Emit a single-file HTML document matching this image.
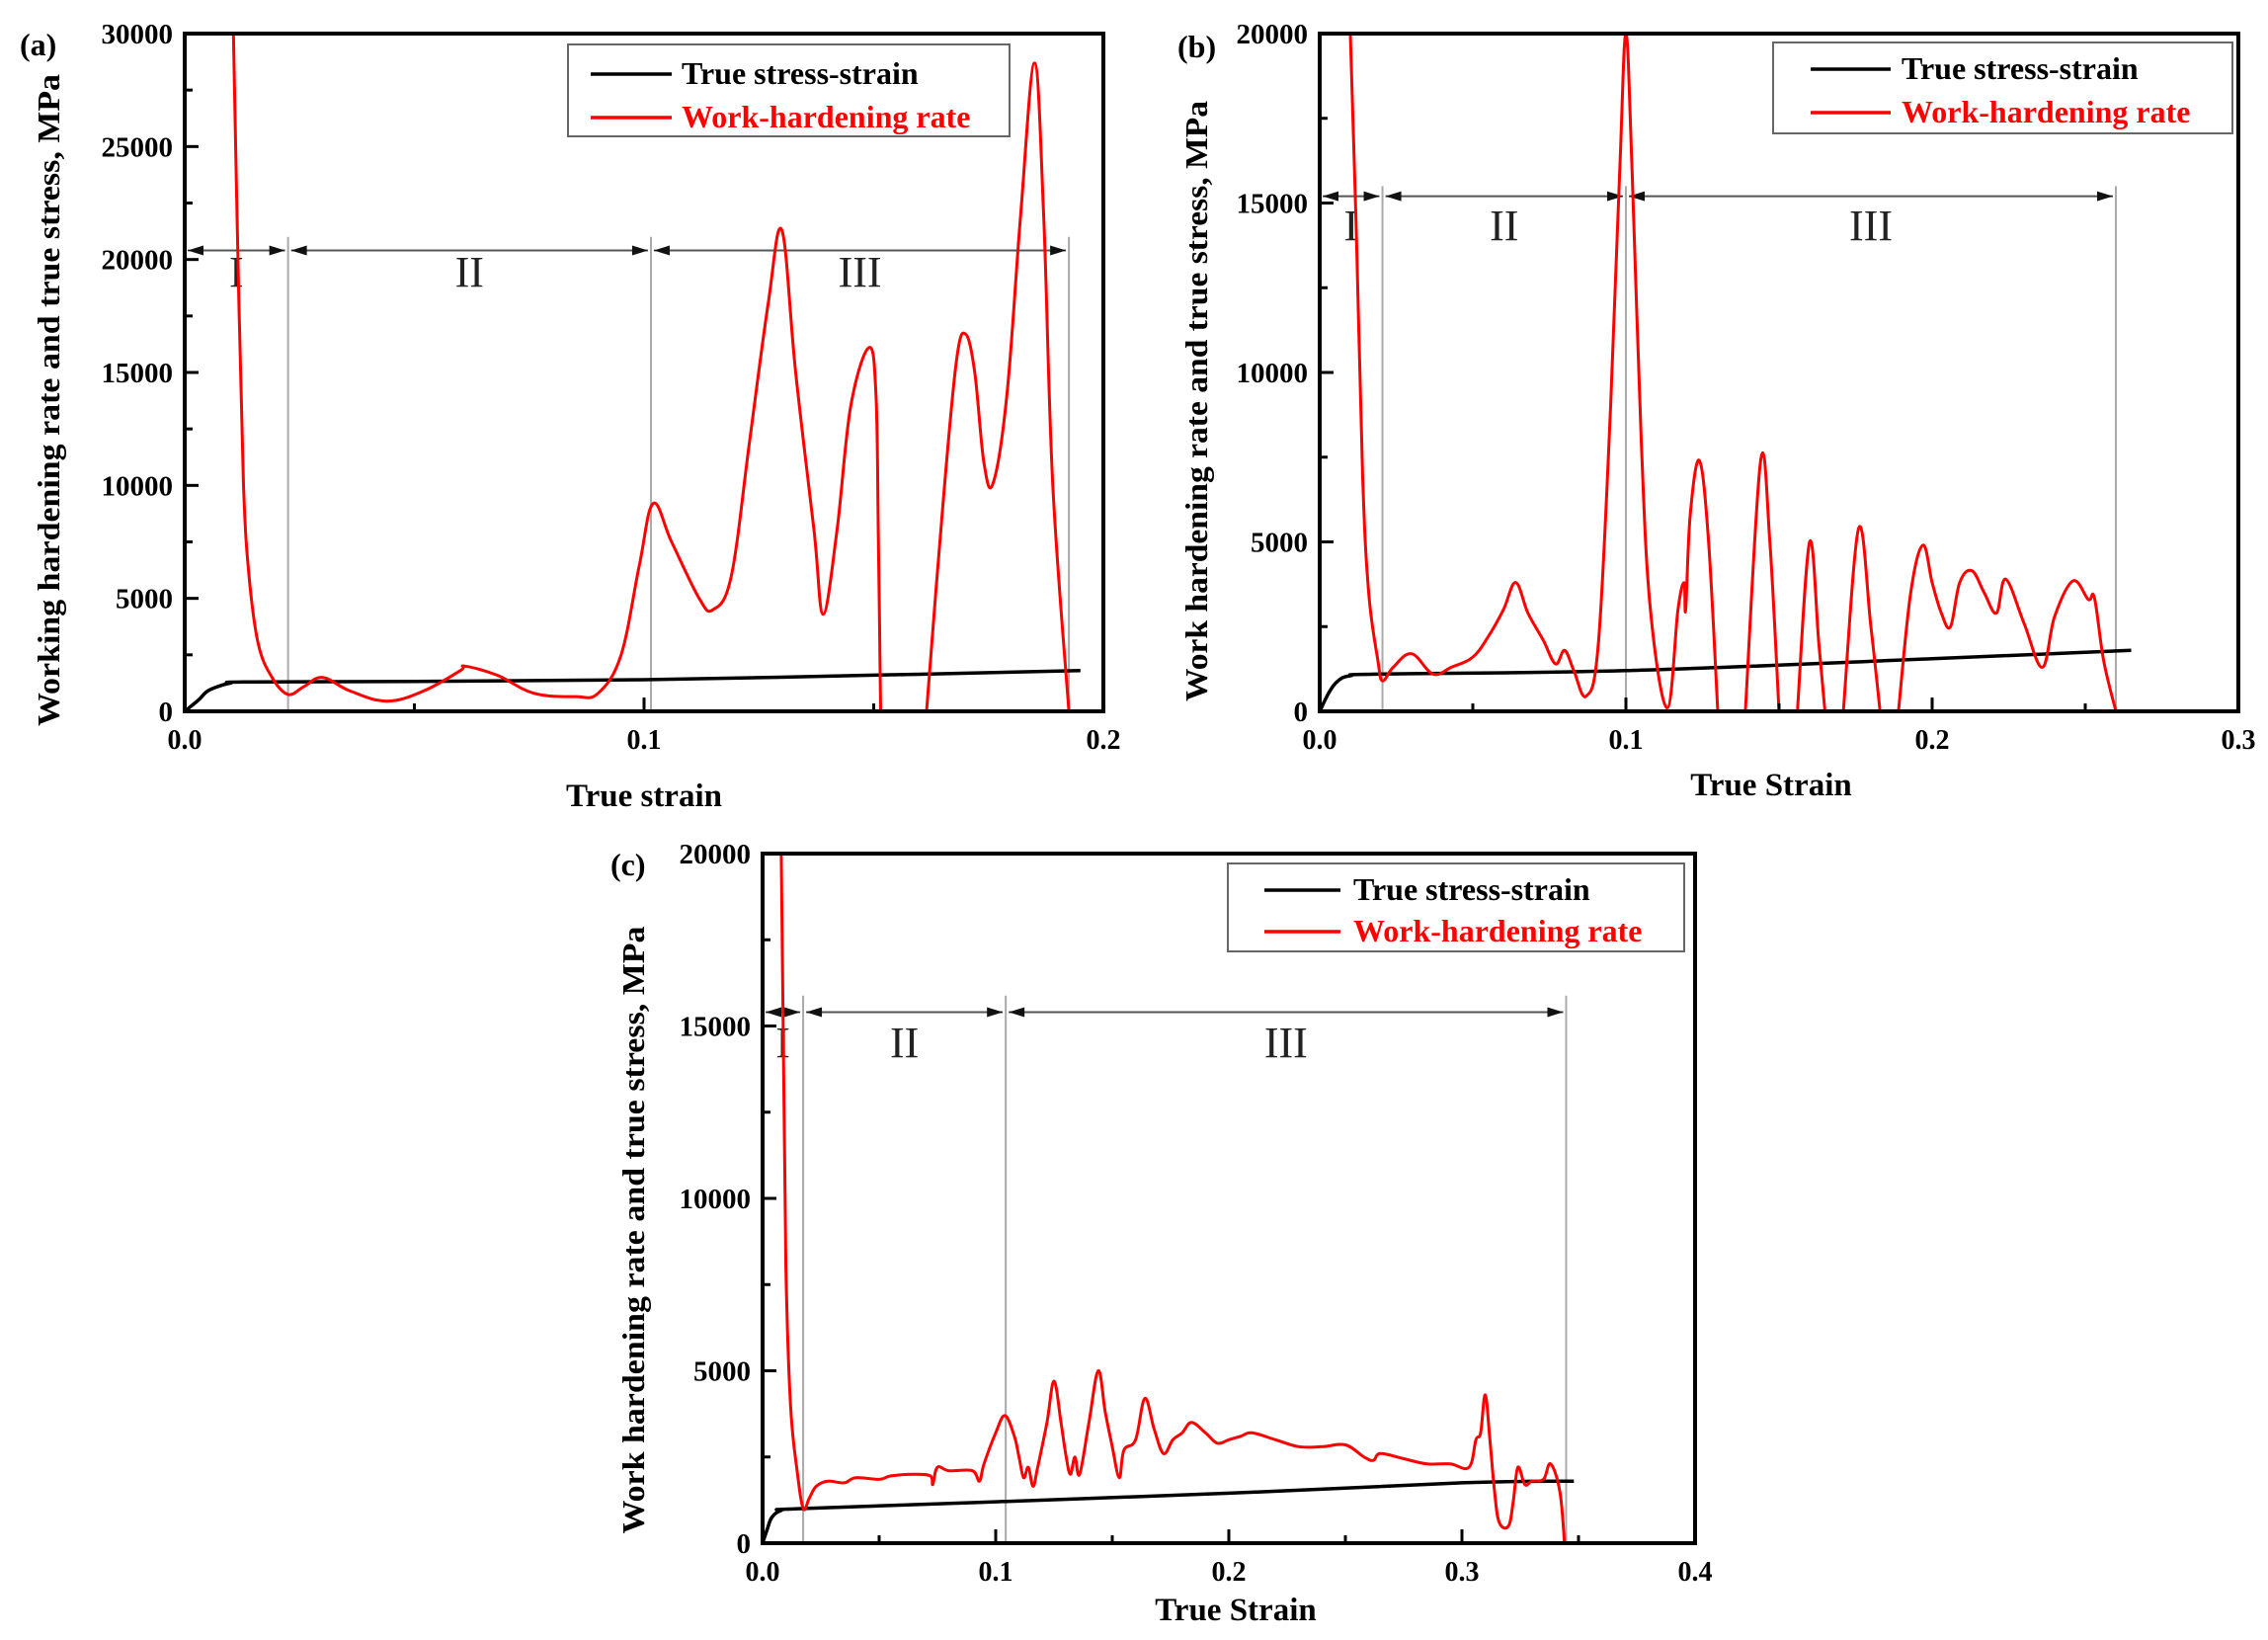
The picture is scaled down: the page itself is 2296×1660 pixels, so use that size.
<!DOCTYPE html>
<html><head><meta charset="utf-8"><style>
html,body{margin:0;padding:0;background:#fff}
svg{display:block}
text{font-family:"Liberation Serif",serif}
</style></head><body>
<svg id="fig" width="2296" height="1660" viewBox="0 0 2296 1660" xmlns="http://www.w3.org/2000/svg"></svg>
<script>
// ---- Panel (a) data ----
const aRedX=[0.0106,0.0118,0.0128,0.014,0.016,0.019,0.0225,0.026,0.030,0.036,0.044,0.052,0.060,0.061,0.068,0.076,0.085,0.090,0.095,0.099,0.102,0.106,0.112,0.115,0.119,0.123,0.127,0.130,0.133,0.137,0.139,0.142,0.145,0.149,0.1505,0.151,0.1515,null,0.1615,0.165,0.168,0.170,0.172,0.174,0.176,0.179,0.182,0.185,0.187,0.189,0.1925];
const aRedY=[30000,18000,10000,6000,3000,1500,750,1100,1500,900,450,900,1800,2000,1600,800,650,800,2500,6500,9200,7500,5000,4500,6000,12000,18000,21300,15000,8000,4300,8000,13500,16100,14000,8000,0,null,0,9000,15500,16700,15000,11000,10100,14000,22000,28700,22000,10000,0];
const aBlkX=[0,0.003,0.005,0.008,0.010,0.013,0.05,0.1,0.15,0.195];
const aBlkY=[0,500,900,1150,1250,1300,1320,1400,1600,1800];
const aBounds=[0,0.0225,0.1015,0.1925];
const aXTicks=["0.0","0.1","0.2"];
const aYTicks=["0","5000","10000","15000","20000","25000","30000"];
// ---- Panel (b) data ----
const bRedX=[0.010,0.012,0.014,0.016,0.019,0.0205,0.024,0.030,0.037,0.043,0.050,0.055,0.060,0.064,0.068,0.073,0.077,0.080,0.083,0.087,0.091,0.095,0.098,0.100,0.102,0.105,0.108,0.1135,0.117,0.119,0.1195,0.121,0.124,0.127,0.130,null,0.139,0.144,0.147,0.150,null,0.156,0.160,0.163,0.165,null,0.171,0.176,0.180,0.183,null,0.189,0.193,0.197,0.200,0.203,0.206,0.209,0.213,0.217,0.221,0.224,0.230,0.236,0.240,0.246,0.251,0.253,0.256,0.260];
const bRedY=[20000,14000,7000,3500,1500,900,1300,1700,1100,1300,1600,2200,3000,3800,2900,2100,1400,1800,1200,450,2000,9000,16000,20000,16000,8000,3000,100,3000,3800,3000,5800,7400,5000,0,null,0,7400,5000,0,null,0,5000,2000,0,null,0,5400,2500,0,null,0,3500,4900,3800,2900,2500,3800,4150,3500,2900,3900,2600,1300,2800,3850,3300,3350,1500,0];
const bBlkX=[0,0.003,0.006,0.010,0.02,0.1,0.2,0.265];
const bBlkY=[0,550,900,1050,1100,1200,1550,1800];
const bBounds=[0,0.0205,0.1,0.26];
const bXTicks=["0.0","0.1","0.2","0.3"];
const bYTicks=["0","5000","10000","15000","20000"];
// ---- Panel (c) data ----
const cRedX=[0.008,0.009,0.010,0.012,0.015,0.0175,0.020,0.023,0.028,0.035,0.040,0.050,0.055,0.065,0.072,0.073,0.075,0.080,0.090,0.093,0.095,0.100,0.104,0.108,0.110,0.112,0.114,0.116,0.118,0.122,0.125,0.128,0.130,0.132,0.134,0.136,0.140,0.144,0.147,0.150,0.153,0.155,0.160,0.164,0.168,0.172,0.176,0.180,0.184,0.190,0.195,0.200,0.205,0.210,0.220,0.230,0.240,0.250,0.258,0.262,0.265,0.275,0.285,0.295,0.303,0.306,0.308,0.310,0.312,0.314,0.316,0.320,0.322,0.324,0.327,0.330,0.335,0.338,0.342,0.344];
const cRedY=[20000,14000,8000,4000,2000,1000,1300,1650,1800,1750,1900,1850,1950,2000,1950,1700,2200,2100,2100,1800,2300,3200,3700,3100,2500,1900,2200,1650,2200,3500,4700,3500,2600,2000,2500,2000,3500,5000,3800,2800,1900,2700,3000,4200,3300,2600,3000,3200,3500,3200,2900,3000,3100,3200,3000,2800,2800,2850,2500,2400,2600,2450,2300,2300,2200,3000,3200,4300,3000,1500,600,500,1200,2200,1700,1800,1850,2300,1500,0];
const cBlkX=[0,0.002,0.004,0.008,0.015,0.1,0.2,0.3,0.348];
const cBlkY=[0,400,750,950,1000,1200,1450,1750,1800];
const cBounds=[0,0.0174,0.1043,0.3447];
const cXTicks=["0.0","0.1","0.2","0.3","0.4"];
const cYTicks=["0","5000","10000","15000","20000"];

const NS="http://www.w3.org/2000/svg";
const svg=document.getElementById('fig');
function mk(tag,attrs,parent){const e=document.createElementNS(NS,tag);for(const k in attrs)e.setAttribute(k,attrs[k]);(parent||svg).appendChild(e);return e;}

function smoothPath(pts){
  if(pts.length<2)return '';
  let d='M'+pts[0][0].toFixed(1)+','+pts[0][1].toFixed(1);
  for(let i=0;i<pts.length-1;i++){
    const p0=pts[Math.max(0,i-1)],p1=pts[i],p2=pts[i+1],p3=pts[Math.min(pts.length-1,i+2)];
    const t=0.18;
    const c1=[p1[0]+(p2[0]-p0[0])*t,p1[1]+(p2[1]-p0[1])*t];
    const c2=[p2[0]-(p3[0]-p1[0])*t,p2[1]-(p3[1]-p1[1])*t];
    d+='C'+c1[0].toFixed(1)+','+c1[1].toFixed(1)+' '+c2[0].toFixed(1)+','+c2[1].toFixed(1)+' '+p2[0].toFixed(1)+','+p2[1].toFixed(1);
  }
  return d;
}

function panel(p){
  const g=mk('g',{});
  
  
  const sx=v=>p.x0+(v-0)/(p.xmax)*(p.x1-p.x0);
  const sy=v=>p.y1-(v/p.ymax)*(p.y1-p.y0);
  const clip='clip-'+p.id;
  const cp=mk('clipPath',{id:clip},g);mk('rect',{x:p.x0,y:p.y0-2,width:p.x1-p.x0,height:p.y1-p.y0+1},cp);
  const ay=sy(p.arrowV), topV=sy(p.vTop);
  p.bounds.forEach((b,i)=>{ if(i>0){const l=mk('line',{x1:sx(b),x2:sx(b),y1:topV,y2:p.y1,stroke:'#aaa','stroke-width':2},g);
    
    }});
  for(let i=0;i<p.bounds.length-1;i++){
    const xa=sx(p.bounds[i])+3, xb=sx(p.bounds[i+1])-3;
    const l=mk('line',{x1:xa,x2:xb,y1:ay,y2:ay,stroke:'#555','stroke-width':2},g);
    
    
    mk('polygon',{points:`${xa},${ay} ${xa+16},${ay-5} ${xa+16},${ay+5}`,fill:'#111'},g);
    mk('polygon',{points:`${xb},${ay} ${xb-16},${ay-5} ${xb-16},${ay+5}`,fill:'#111'},g);
    const t=mk('text',{x:(sx(p.bounds[i])+sx(p.bounds[i+1]))/2,y:sy(p.labelV),'text-anchor':'middle','font-size':44,fill:'#222'},g);
    t.textContent=['I','II','III'][i];
    
    
  }
  function path(xs,ys){let d='',seg=[];
    for(let i=0;i<=xs.length;i++){
      if(i===xs.length||xs[i]===null){d+=smoothPath(seg);seg=[];continue;}
      seg.push([sx(xs[i]),sy(ys[i])]);
    }return d;}
  const bl=mk('path',{d:path(p.bx,p.by),fill:'none',stroke:'#000','stroke-width':3.5,'clip-path':`url(#${clip})`},g);
  
  
  const rl=mk('path',{d:path(p.rx,p.ry),fill:'none',stroke:'#f00','stroke-width':3,'stroke-linejoin':'round','clip-path':`url(#${clip})`},g);
  
  
  const fr=mk('rect',{x:p.x0,y:p.y0,width:p.x1-p.x0,height:p.y1-p.y0,fill:'none',stroke:'#000','stroke-width':4},g);
  
  
  const xstep=0.1;
  p.xt.forEach((lab,i)=>{const v=i*xstep,x=sx(v);
    mk('line',{x1:x,x2:x,y1:p.y1,y2:p.y1-14,stroke:'#000','stroke-width':3},g);
    if(i<p.xt.length-1){const xm=sx(v+xstep/2);mk('line',{x1:xm,x2:xm,y1:p.y1,y2:p.y1-8,stroke:'#000','stroke-width':3},g);}
    const t=mk('text',{x:x,y:p.y1+38,'text-anchor':'middle','font-size':28,'font-weight':'bold'},g);
    t.textContent=lab;});
  p.yt.forEach((lab,i)=>{const v=i*5000,y=sy(v);
    mk('line',{x1:p.x0,x2:p.x0+14,y1:y,y2:y,stroke:'#000','stroke-width':3},g);
    if(i<p.yt.length-1){const ym=sy(v+2500);mk('line',{x1:p.x0,x2:p.x0+8,y1:ym,y2:ym,stroke:'#000','stroke-width':3},g);}
    const t=mk('text',{x:p.x0-12,y:y+10,'text-anchor':'end','font-size':29,'font-weight':'bold'},g);
    t.textContent=lab;});
  const xt=mk('text',{x:p.xtX,y:p.xtY,'text-anchor':'middle','font-size':33,'font-weight':'bold'},g);
  xt.textContent=p.xTitle;
  const yt=mk('text',{x:0,y:0,'text-anchor':'middle','font-size':32,'font-weight':'bold',transform:`translate(${p.ytX},${p.ytC}) rotate(-90)`,textLength:p.ytLen,lengthAdjust:'spacingAndGlyphs'},g);
  yt.textContent=p.yTitle;
  const pl=mk('text',{x:p.plX,y:p.plY,'font-size':32,'font-weight':'bold'},g);
  pl.textContent='('+p.id+')';
  const L=p.leg;
  const lb=mk('rect',{x:L.x,y:L.y,width:L.w,height:L.h,fill:'#fff',stroke:'#666','stroke-width':2},g);
  
  mk('line',{x1:L.lx,x2:L.lx+L.lw,y1:L.r1,y2:L.r1,stroke:'#000','stroke-width':3.5},g);
  const t1=mk('text',{x:L.tx,y:L.r1+10,'font-size':32,'font-weight':'bold'},g);t1.textContent='True stress-strain';
  
  mk('line',{x1:L.lx,x2:L.lx+L.lw,y1:L.r2,y2:L.r2,stroke:'#f00','stroke-width':3.5},g);
  const t2=mk('text',{x:L.tx,y:L.r2+10,'font-size':32,'font-weight':'bold',fill:'#f00'},g);t2.textContent='Work-hardening rate';
  
}

panel({id:'a',x0:187,x1:1117,y0:34,y1:720,xmax:0.2,ymax:30000,rx:aRedX,ry:aRedY,bx:aBlkX,by:aBlkY,bounds:aBounds,xt:aXTicks,yt:aYTicks,
  arrowV:20400,vTop:21000,labelV:18800,xTitle:'True strain',xtX:652,xtY:816,yTitle:'Working hardening rate and true stress, MPa',ytX:60,ytC:405,ytLen:660,plX:20,plY:56,
  leg:{x:575,y:45,w:447,h:93,lx:598,lw:82,tx:690,r1:75,r2:119}});
panel({id:'b',x0:1336,x1:2266,y0:34,y1:720,xmax:0.3,ymax:20000,rx:bRedX,ry:bRedY,bx:bBlkX,by:bBlkY,bounds:bBounds,xt:bXTicks,yt:bYTicks,
  arrowV:15200,vTop:15500,labelV:13900,xTitle:'True Strain',xtX:1793,xtY:805,yTitle:'Work hardening rate and true stress, MPa',ytX:1222,ytC:406,ytLen:608,plX:1192,plY:58,
  leg:{x:1795,y:43,w:465,h:92,lx:1833,lw:81,tx:1925,r1:70,r2:114}});
panel({id:'c',x0:772,x1:1716,y0:864,y1:1562,xmax:0.4,ymax:20000,rx:cRedX,ry:cRedY,bx:cBlkX,by:cBlkY,bounds:cBounds,xt:cXTicks,yt:cYTicks,
  arrowV:15400,vTop:15880,labelV:14100,xTitle:'True Strain',xtX:1251,xtY:1640,yTitle:'Work hardening rate and true stress, MPa',ytX:652,ytC:1245,ytLen:615,plX:618,plY:886,
  leg:{x:1243,y:874,w:462,h:89,lx:1280,lw:77,tx:1370,r1:901,r2:943}});
</script>
</body></html>
